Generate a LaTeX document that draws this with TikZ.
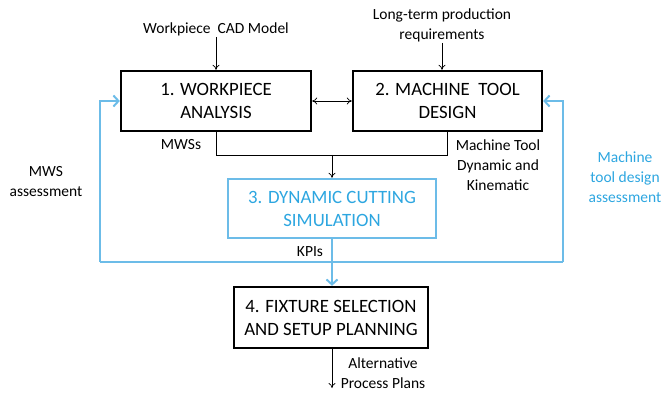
\documentclass[tikz,border=0pt]{standalone}
\usepackage{fontspec}
\setmainfont{Carlito}
\usetikzlibrary{arrows.meta}
\definecolor{lineblue}{RGB}{108,188,232}
\definecolor{textblue}{RGB}{45,166,224}
\tikzset{
  stagebox/.style={draw=black, line width=2.4pt, align=center, inner sep=0pt,
    font=\fontsize{18.8}{23}\selectfont},
  bluebox/.style={stagebox, draw=lineblue, text=textblue},
  lbl/.style={align=center, inner sep=1pt, font=\fontsize{15.5}{20}\selectfont},
  thin/.style={line width=0.7pt, -{To[length=5pt,width=7pt]}},
  bluel/.style={draw=lineblue, line width=2.2pt},
  bluearr/.style={bluel, -{Straight Barb[length=5pt,width=11pt,line width=2pt]}},
}
\begin{document}
\begin{tikzpicture}[x=1pt,y=-1pt]
\useasboundingbox (0,0) rectangle (665,393);

% stages
\node[stagebox, minimum width=190, minimum height=60] (b1) at (216,101) {1. WORKPIECE\\ANALYSIS};
\node[stagebox, minimum width=189, minimum height=60] (b2) at (447.5,101) {2. MACHINE\ \ TOOL\\DESIGN};
\node[bluebox, minimum width=208, minimum height=59] (b3) at (332,208.5) {3. DYNAMIC CUTTING\\SIMULATION};
\node[stagebox, minimum width=194, minimum height=61] (b4) at (331,317.5) {4. FIXTURE SELECTION\\AND SETUP PLANNING};

% inputs and outputs
\node[lbl] (wcad) at (216,29) {Workpiece\ \ CAD Model};
\node[lbl] (ltr) at (442,25) {Long-term production\\requirements};
\node[lbl] (alt) at (383,373) {Alternative\\Process Plans};

% labels on the flows
\node[lbl] (mwss) at (181,145) {MWSs};
\node[lbl] (mtdk) at (498,165) {Machine Tool\\Dynamic and\\Kinematic};
\node[lbl] (kpi) at (310,252) {KPIs};
\node[lbl] (mwsa) at (46,182) {MWS\\assessment};
\node[lbl, text=textblue] (mtda) at (625,177) {Machine\\tool design\\assessment};

\coordinate (join) at (332,155);
\coordinate (loop) at (332,262);
\coordinate (lft) at (100,262);
\coordinate (rgt) at (563,262);
\coordinate (outend) at (332,388);

% black flows
\draw[thin] (wcad.south) -- (wcad.south |- b1.north);
\draw[thin] (ltr.south) -- (ltr.south |- b2.north);
\draw[thin, {To[length=5pt,width=7pt]}-{To[length=5pt,width=7pt]}] (b1.east) -- (b2.west);
\draw[line width=0.7pt] (b1.south) |- (b2.south |- join) -- (b2.south);
\draw[thin] (join) -- (b3.north);
\draw[thin] (b4.south -| outend) -- (outend);

% feedback loop
\draw[bluel] (lft) -- (rgt);
\draw[bluearr] (lft) |- (b1.west);
\draw[bluearr] (rgt) |- (b2.east);
\draw[bluearr] (b3.south -| loop) -- (b4.north -| loop);
\end{tikzpicture}
\end{document}
